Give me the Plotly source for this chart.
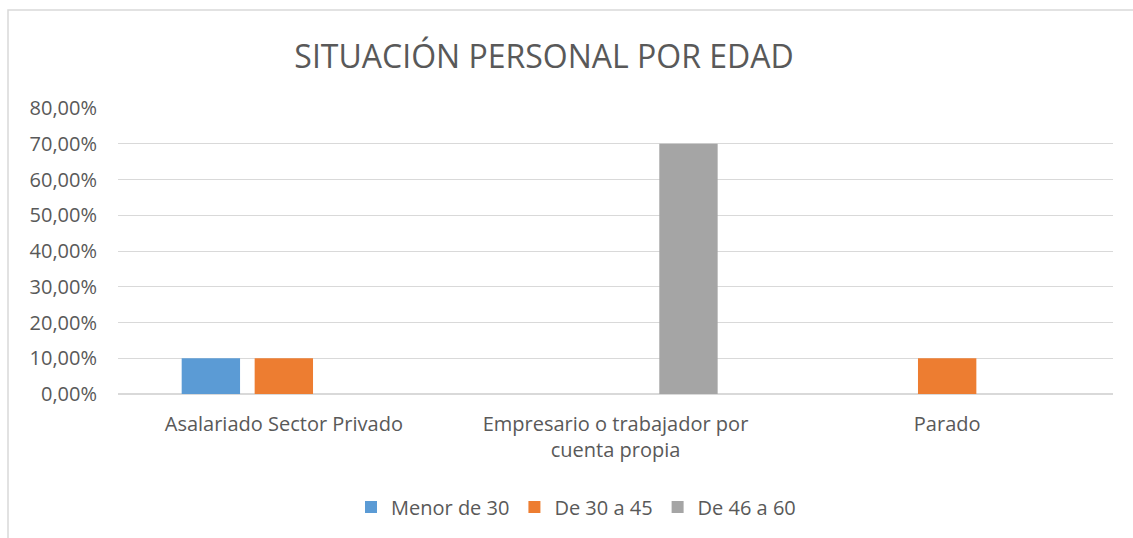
import plotly.graph_objects as go

categories = ["Asalariado Sector Privado",
              "Empresario o trabajador por<br>cuenta propia",
              "Parado"]
series_names = ["Menor de 30", "De 30 a 45", "De 46 a 60"]
menor_30 = [0.10, 0.0, 0.0]
de_30_45 = [0.10, 0.0, 0.10]
de_46_60 = [0.0, 0.70, 0.0]
colors = ["#5B9BD5", "#ED7D31", "#A5A5A5"]
y_ticks = [0, 0.1, 0.2, 0.3, 0.4, 0.5, 0.6, 0.7, 0.8]

W, H = 1133, 538
L, R, T, B = 118, 20, 108, 144
pw, ph = W - L - R, H - T - B

fig = go.Figure()
for name, vals, c in zip(series_names, [menor_30, de_30_45, de_46_60], colors):
    fig.add_trace(go.Bar(x=categories, y=vals, name=name, marker_color=c,
                         marker_line_width=0))

font = "Open Sans"
fs = 20
fig.update_layout(
    width=W, height=H,
    margin=dict(l=L, r=R, t=T, b=B, autoexpand=False),
    paper_bgcolor="white", plot_bgcolor="white",
    separators=",.",
    barmode="group", bargap=0.34, bargroupgap=0.2,
    font=dict(family=font, color="#595959", size=fs),
    title=dict(text="SITUACIÓN PERSONAL POR EDAD", x=544 / W, xanchor="center",
               xref="container", y=1 - 57 / H, yanchor="middle", yref="container",
               font=dict(family=font, size=32, color="#595959")),
    xaxis=dict(showgrid=False, showline=False, ticks="", tickfont=dict(size=fs),
               ticklabelstandoff=16),
    yaxis=dict(range=[0, 0.8], tickvals=y_ticks, tickformat=".2%",
               showgrid=True, gridcolor="#D9D9D9", gridwidth=1,
               zeroline=True, zerolinecolor="#D9D9D9", zerolinewidth=1.5,
               showline=False, ticks="", ticklabelstandoff=20,
               tickfont=dict(size=fs)),
    legend=dict(orientation="h", x=(576 - L) / pw, xanchor="center",
                y=(394 - 507) / ph, yanchor="middle",
                font=dict(size=fs), itemwidth=30, traceorder="normal"),
    showlegend=True,
)

# chart outer border (light gray), partly cropped like the reference
fig.add_shape(type="rect", xref="paper", yref="paper",
              x0=(8 - L) / pw, x1=(1160 - L) / pw,
              y0=(394 - 560) / ph, y1=(394 - 10) / ph,
              line=dict(color="#D9D9D9", width=1.5), fillcolor="rgba(0,0,0,0)",
              layer="below")

fig.write_html(
    "out.html",
    config={"displayModeBar": False},
    post_script="document.body.style.margin='0';document.body.style.overflow='hidden';",
)
